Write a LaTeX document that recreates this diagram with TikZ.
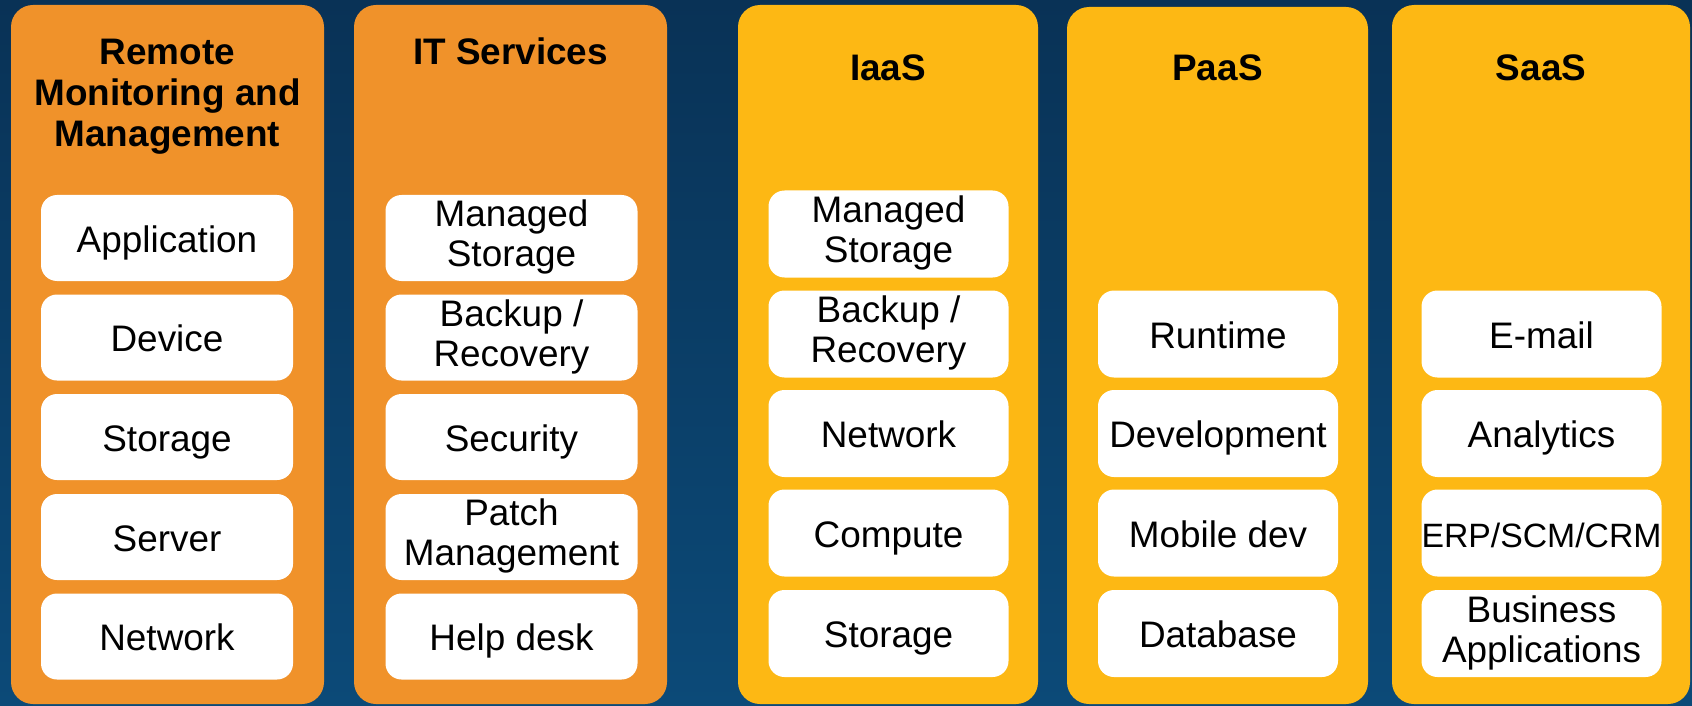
\documentclass[tikz,border=0pt]{standalone}
\usepackage{fontspec}
\setmainfont{Liberation Sans}
\definecolor{navytop}{RGB}{9,50,86}
\definecolor{navybottom}{RGB}{12,74,120}
\definecolor{mgdorange}{RGB}{240,146,42}
\definecolor{cloudyellow}{RGB}{253,184,20}
\newcommand{\toprule}{\vrule width 0pt height 0.74cm depth 0pt}
\newcommand{\botrule}{\vrule width 0pt height 0pt depth 0.18cm}
\tikzset{
        panel/.style={rounded corners=0.44cm},
        heading/.style={font=\fontsize{21}{23.4}\selectfont\bfseries, align=center, inner sep=0pt},
        item/.style={fill=white, rounded corners=0.32cm, minimum width=5.04cm, minimum height=1.72cm,
                inner sep=0pt, align=center, font=\fontsize{21}{22.8}\selectfont,
                execute at begin node=\toprule, execute at end node=\botrule},
        cloud item/.style={item, minimum width=4.80cm, minimum height=1.74cm}
}
\begin{document}
\begin{tikzpicture}
        \shade[top color=navytop, bottom color=navybottom] (0, 0) rectangle (33.84, -14.12);

        \fill[panel, mgdorange] (0.22, -0.10) rectangle (6.48, -14.08);
        \fill[panel, mgdorange] (7.08, -0.10) rectangle (13.34, -14.08);
        \fill[panel, cloudyellow] (14.76, -0.10) rectangle (20.76, -14.08);
        \fill[panel, cloudyellow] (21.34, -0.14) rectangle (27.36, -14.08);
        \fill[panel, cloudyellow] (27.84, -0.10) rectangle (33.80, -14.08);

        \node[heading] (RMM) at (3.35, -1.93) {Remote \\ Monitoring and \\ Management};
        \node[heading, anchor=base] (ITS) at (10.21, -1.30) {IT Services};
        \node[heading, anchor=base] (IAAS) at (17.76, -1.62) {IaaS};
        \node[heading, anchor=base] (PAAS) at (24.35, -1.62) {PaaS};
        \node[heading, anchor=base] (SAAS) at (30.82, -1.62) {SaaS};

        \node[item] (APP) at (3.34, -4.76) {Application};
        \node[item] (DEV) at (3.34, -6.75) {Device};
        \node[item] (RSTO) at (3.34, -8.74) {Storage};
        \node[item] (SRV) at (3.34, -10.74) {Server};
        \node[item] (RNET) at (3.34, -12.73) {Network};

        \node[item] (MS1) at (10.23, -4.76) {Managed \\ Storage};
        \node[item] (BR1) at (10.23, -6.75) {Backup / \\ Recovery};
        \node[item] (SEC) at (10.23, -8.74) {Security};
        \node[item] (PM) at (10.23, -10.74) {Patch \\ Management};
        \node[item] (HD) at (10.23, -12.73) {Help desk};

        \node[cloud item] (MS2) at (17.77, -4.68) {Managed \\ Storage};
        \node[cloud item] (BR2) at (17.77, -6.68) {Backup / \\ Recovery};
        \node[cloud item] (NET) at (17.77, -8.67) {Network};
        \node[cloud item] (CMP) at (17.77, -10.66) {Compute};
        \node[cloud item] (STO) at (17.77, -12.67) {Storage};

        \node[cloud item] (RT) at (24.36, -6.68) {Runtime};
        \node[cloud item] (DEVT) at (24.36, -8.67) {Development};
        \node[cloud item] (MOB) at (24.36, -10.66) {Mobile dev};
        \node[cloud item] (DB) at (24.36, -12.67) {Database};

        \node[cloud item] (EM) at (30.83, -6.68) {E-mail};
        \node[cloud item] (AN) at (30.83, -8.67) {Analytics};
        \node[cloud item, font=\fontsize{19.2}{22}\selectfont] (ERP) at (30.83, -10.66) {ERP/SCM/CRM};
        \node[cloud item] (BA) at (30.83, -12.67) {Business \\ Applications};
    \end{tikzpicture}
\end{document}
